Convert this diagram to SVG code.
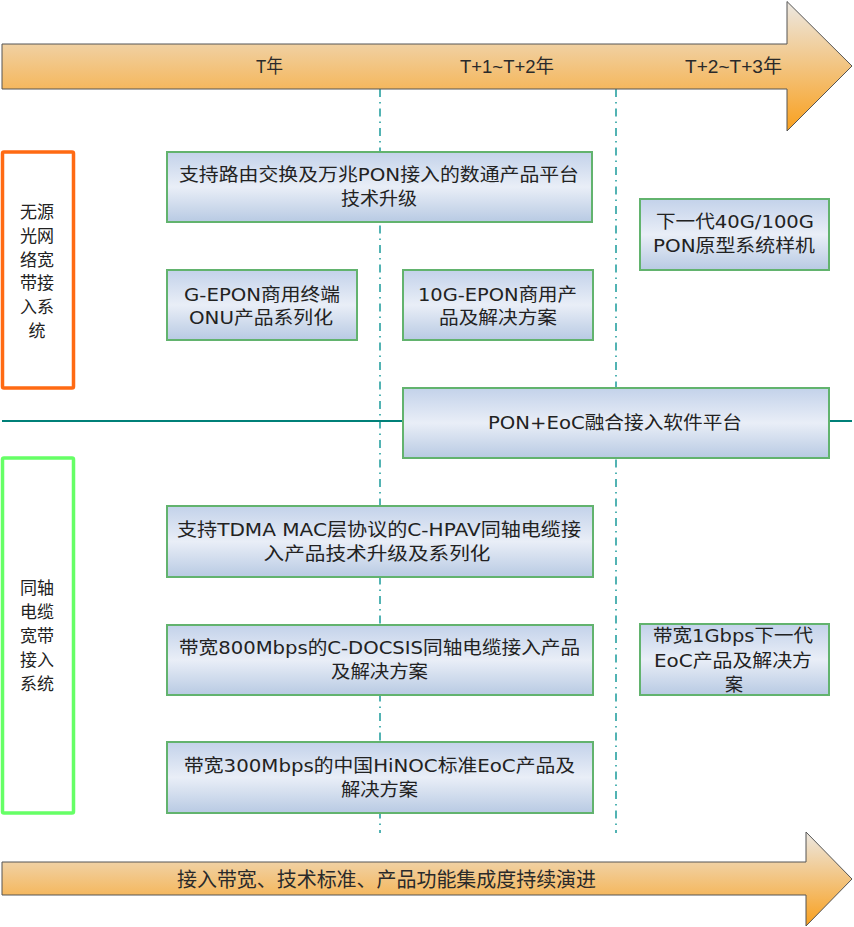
<svg xmlns="http://www.w3.org/2000/svg" width="854" height="927" viewBox="0 0 854 927">
<defs>
<linearGradient id="boxg" x1="0" y1="0" x2="0" y2="1">
<stop offset="0" stop-color="#C3D2EA"/>
<stop offset="0.5" stop-color="#E9EEF7"/>
<stop offset="1" stop-color="#B8CAE3"/>
</linearGradient>
<linearGradient id="arr1" gradientUnits="userSpaceOnUse" x1="0" y1="2" x2="0" y2="131">
<stop offset="0" stop-color="#ECE8E2"/>
<stop offset="1" stop-color="#F9A01E"/>
</linearGradient>
<linearGradient id="arr2" gradientUnits="userSpaceOnUse" x1="0" y1="832" x2="0" y2="926">
<stop offset="0" stop-color="#ECE8E2"/>
<stop offset="1" stop-color="#F9A01E"/>
</linearGradient>
<style>
.box{fill:url(#boxg);stroke:#62B36E;stroke-width:2}
.t{font-family:"DejaVu Sans","Noto Sans CJK SC",sans-serif;font-size:18px;fill:#222;text-anchor:middle}
.lbl{font-family:"Noto Sans CJK SC",sans-serif;font-size:17px;fill:#222;text-anchor:middle}
.arr{stroke:#555;stroke-width:1}
.at{font-family:"Liberation Sans","Noto Sans CJK SC",sans-serif;font-size:19px;fill:#2a2a2a;text-anchor:middle}
.bt{font-family:"Noto Sans CJK SC",sans-serif;font-size:20px;fill:#2a2a2a;text-anchor:middle}
.dash{stroke:#1A9A9A;stroke-width:1.5;stroke-dasharray:8 5 1.5 5;fill:none}
</style>
</defs>
<rect width="854" height="927" fill="#fff"/>

<g id="connectors">
<line class="dash" x1="380" y1="89" x2="380" y2="833"/>
<line class="dash" x1="616" y1="89" x2="616" y2="833"/>
<line x1="2" y1="421" x2="852" y2="421" stroke="#008078" stroke-width="2"/>
</g>

<g id="timeline-arrow">
<polygon class="arr" fill="url(#arr1)" points="2,44 787,44 787,1.5 852,66 787,131 787,89 2,89"/>
<text class="at" x="269.5" y="73" textLength="27" lengthAdjust="spacingAndGlyphs">T年</text>
<text class="at" x="507" y="73" textLength="94" lengthAdjust="spacingAndGlyphs">T+1~T+2年</text>
<text class="at" x="733.5" y="73" textLength="97" lengthAdjust="spacingAndGlyphs">T+2~T+3年</text>
</g>

<g id="pon-label">
<rect x="2.5" y="152" width="71" height="236" rx="1.5" fill="#fff" stroke="#FF6A13" stroke-width="3.5"/>
<text class="lbl" x="37" y="218">无源</text>
<text class="lbl" x="37" y="241.8">光网</text>
<text class="lbl" x="37" y="265.6">络宽</text>
<text class="lbl" x="37" y="289.4">带接</text>
<text class="lbl" x="37" y="313.2">入系</text>
<text class="lbl" x="37" y="337">统</text>
</g>

<g id="coax-label">
<rect x="2.5" y="458" width="71" height="355" rx="1.5" fill="#fff" stroke="#66FF66" stroke-width="3.5"/>
<text class="lbl" x="37" y="594">同轴</text>
<text class="lbl" x="37" y="618">电缆</text>
<text class="lbl" x="37" y="642">宽带</text>
<text class="lbl" x="37" y="666">接入</text>
<text class="lbl" x="37" y="690">系统</text>
</g>

<g id="n-pon-platform">
<rect class="box" x="167" y="152" width="425" height="70"/>
<text class="t" x="379" y="181" textLength="400" lengthAdjust="spacingAndGlyphs">支持路由交换及万兆PON接入的数通产品平台</text>
<text class="t" x="379" y="205" textLength="76" lengthAdjust="spacingAndGlyphs">技术升级</text>
</g>

<g id="n-gepon">
<rect class="box" x="167" y="270" width="190" height="70"/>
<text class="t" x="262" y="301" textLength="156" lengthAdjust="spacingAndGlyphs">G-EPON商用终端</text>
<text class="t" x="261" y="324" textLength="144" lengthAdjust="spacingAndGlyphs">ONU产品系列化</text>
</g>

<g id="n-10gepon">
<rect class="box" x="403" y="270" width="190" height="70"/>
<text class="t" x="497.5" y="301" textLength="159" lengthAdjust="spacingAndGlyphs">10G-EPON商用产</text>
<text class="t" x="498" y="324" textLength="118" lengthAdjust="spacingAndGlyphs">品及解决方案</text>
</g>

<g id="n-40g">
<rect class="box" x="640" y="199" width="189" height="71"/>
<text class="t" x="735" y="228" textLength="158" lengthAdjust="spacingAndGlyphs">下一代40G/100G</text>
<text class="t" x="734" y="252" textLength="162" lengthAdjust="spacingAndGlyphs">PON原型系统样机</text>
</g>

<g id="n-pon-eoc">
<rect class="box" x="403" y="388" width="426" height="70"/>
<text class="t" x="615" y="429" textLength="254" lengthAdjust="spacingAndGlyphs">PON+EoC融合接入软件平台</text>
</g>

<g id="n-hpav">
<rect class="box" x="167" y="506" width="426" height="71"/>
<text class="t" x="379" y="536" textLength="404" lengthAdjust="spacingAndGlyphs">支持TDMA MAC层协议的C-HPAV同轴电缆接</text>
<text class="t" x="377" y="560" textLength="227" lengthAdjust="spacingAndGlyphs">入产品技术升级及系列化</text>
</g>

<g id="n-docsis">
<rect class="box" x="167" y="625" width="426" height="70"/>
<text class="t" x="379.5" y="654" textLength="401" lengthAdjust="spacingAndGlyphs">带宽800Mbps的C-DOCSIS同轴电缆接入产品</text>
<text class="t" x="379.5" y="678" textLength="97" lengthAdjust="spacingAndGlyphs">及解决方案</text>
</g>

<g id="n-hinoc">
<rect class="box" x="167" y="742" width="426" height="71"/>
<text class="t" x="379.5" y="772" textLength="391" lengthAdjust="spacingAndGlyphs">带宽300Mbps的中国HiNOC标准EoC产品及</text>
<text class="t" x="379.5" y="796" textLength="77" lengthAdjust="spacingAndGlyphs">解决方案</text>
</g>

<g id="n-1gbps">
<rect class="box" x="640" y="624" width="189" height="71"/>
<text class="t" x="733" y="642" textLength="160" lengthAdjust="spacingAndGlyphs">带宽1Gbps下一代</text>
<text class="t" x="733" y="667" textLength="158" lengthAdjust="spacingAndGlyphs">EoC产品及解决方</text>
<text class="t" x="734" y="691">案</text>
</g>

<g id="evolution-arrow">
<polygon class="arr" fill="url(#arr2)" points="2,862 806,862 806,832 852,879 806,926 806,895 2,895"/>
<text class="bt" x="386.5" y="887" textLength="419" lengthAdjust="spacingAndGlyphs">接入带宽、技术标准、产品功能集成度持续演进</text>
</g>
</svg>
